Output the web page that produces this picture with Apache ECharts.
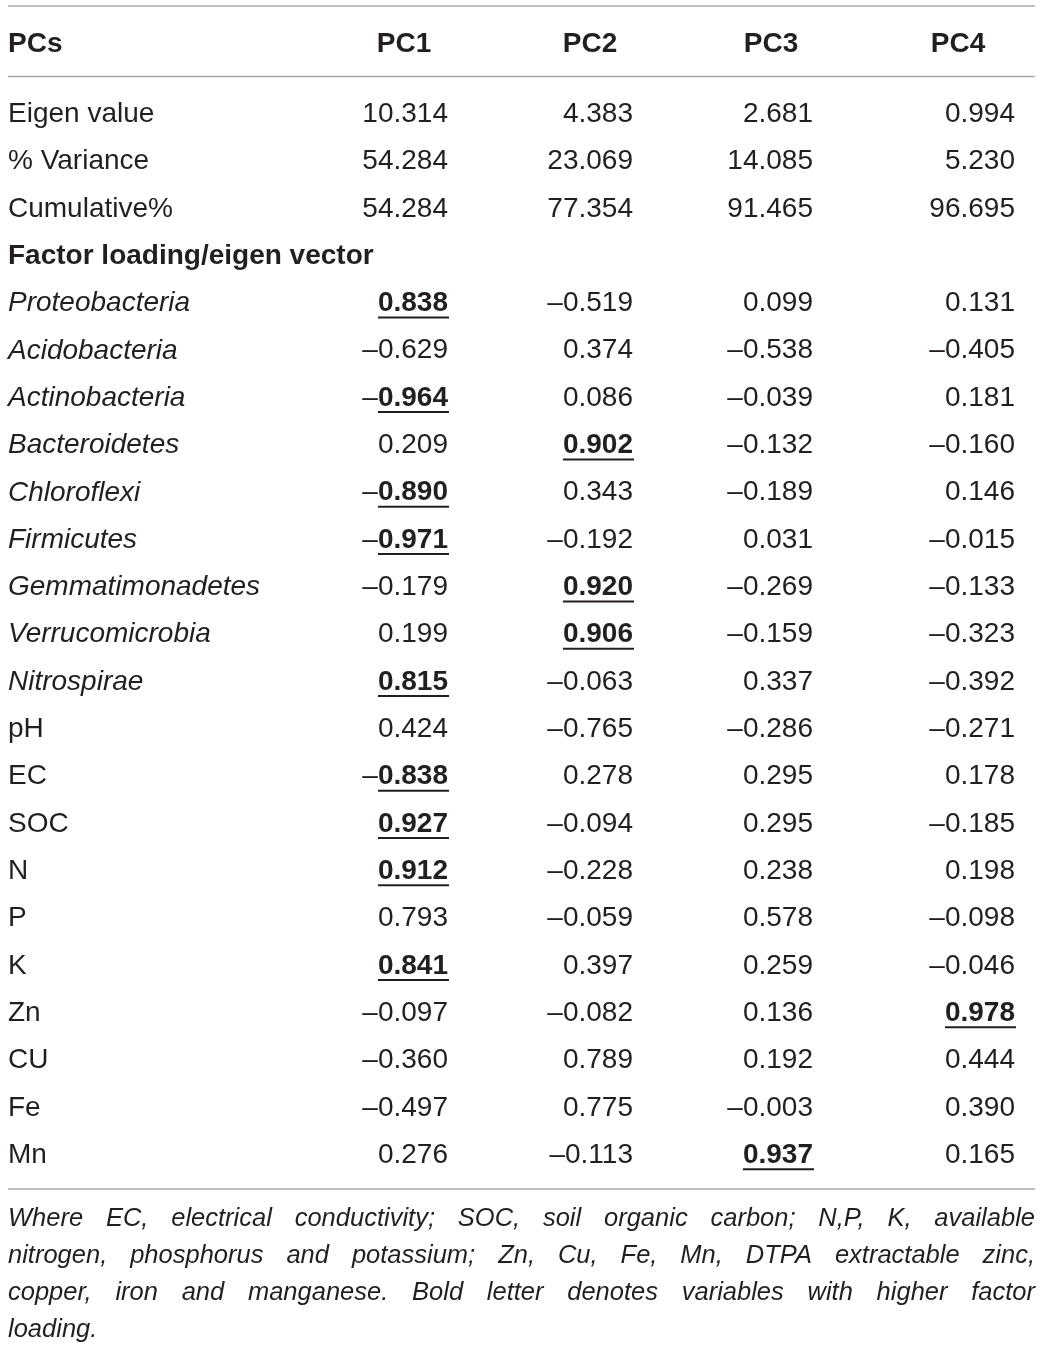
<!DOCTYPE html>
<html>
<head>
<meta charset="utf-8">
<script src="https://cdn.jsdelivr.net/npm/echarts@6/dist/echarts.min.js"></script>
<style>
html,body{margin:0;padding:0;background:#fff;}
#c{width:1043px;height:1350px;}
</style>
</head>
<body>
<div id="c"></div>
<script>
// ---------- DATA ----------
const headerLabel = 'PCs';
const columns = ['PC1', 'PC2', 'PC3', 'PC4'];
const rowLabels = ['Eigen value', '% Variance', 'Cumulative%', 'Factor loading/eigen vector',
  'Proteobacteria', 'Acidobacteria', 'Actinobacteria', 'Bacteroidetes', 'Chloroflexi', 'Firmicutes',
  'Gemmatimonadetes', 'Verrucomicrobia', 'Nitrospirae',
  'pH', 'EC', 'SOC', 'N', 'P', 'K', 'Zn', 'CU', 'Fe', 'Mn'];
const italicRows = ['Proteobacteria', 'Acidobacteria', 'Actinobacteria', 'Bacteroidetes', 'Chloroflexi',
  'Firmicutes', 'Gemmatimonadetes', 'Verrucomicrobia', 'Nitrospirae'];
const sectionRows = ['Factor loading/eigen vector'];
const pc1 = [10.314, 54.284, 54.284, null, 0.838, -0.629, -0.964, 0.209, -0.890, -0.971, -0.179, 0.199, 0.815, 0.424, -0.838, 0.927, 0.912, 0.793, 0.841, -0.097, -0.360, -0.497, 0.276];
const pc2 = [4.383, 23.069, 77.354, null, -0.519, 0.374, 0.086, 0.902, 0.343, -0.192, 0.920, 0.906, -0.063, -0.765, 0.278, -0.094, -0.228, -0.059, 0.397, -0.082, 0.789, 0.775, -0.113];
const pc3 = [2.681, 14.085, 91.465, null, 0.099, -0.538, -0.039, -0.132, -0.189, 0.031, -0.269, -0.159, 0.337, -0.286, 0.295, 0.295, 0.238, 0.578, 0.259, 0.136, 0.192, -0.003, 0.937];
const pc4 = [0.994, 5.230, 96.695, null, 0.131, -0.405, 0.181, -0.160, 0.146, -0.015, -0.133, -0.323, -0.392, -0.271, 0.178, -0.185, 0.198, -0.098, -0.046, 0.978, 0.444, 0.390, 0.165];
const highlighted = [
  ['PC1', 'Proteobacteria'], ['PC1', 'Actinobacteria'], ['PC1', 'Chloroflexi'], ['PC1', 'Firmicutes'],
  ['PC1', 'Nitrospirae'], ['PC1', 'EC'], ['PC1', 'SOC'], ['PC1', 'N'], ['PC1', 'K'],
  ['PC2', 'Bacteroidetes'], ['PC2', 'Gemmatimonadetes'], ['PC2', 'Verrucomicrobia'],
  ['PC3', 'Mn'], ['PC4', 'Zn']
];
const footnoteLines = [
  'Where EC, electrical conductivity; SOC, soil organic carbon; N,P, K, available',
  'nitrogen, phosphorus and potassium; Zn, Cu, Fe, Mn, DTPA extractable zinc,',
  'copper, iron and manganese. Bold letter denotes variables with higher factor',
  'loading.'
];

// ---------- LAYOUT / STYLE ----------
const FONT = '"Liberation Sans", Arial, Helvetica, sans-serif';
const INK = '#231f20';
const RULE = '#a8a8a8';
const SIZE = 28;
const COL_RIGHT = [448, 633, 813, 1015];     // right edge of each numeric column
const HEAD_CENTER = [404, 590, 771, 958];    // centre of each column heading
const LEFT = 8, RIGHT = 1035;

const seriesCols = [pc1, pc2, pc3, pc4];
const ctx = document.createElement('canvas').getContext('2d');
function tw(font, s) { ctx.font = font; return ctx.measureText(s).width; }
const fNorm = SIZE + 'px ' + FONT;
const fBold = 'bold ' + SIZE + 'px ' + FONT;

function fmtAbs(v) { return Math.abs(v).toFixed(3); }

const cells = [];
seriesCols.forEach((arr, ci) => {
  arr.forEach((v, ri) => {
    if (v === null || v === undefined) return;
    const hi = highlighted.some(h => h[0] === columns[ci] && h[1] === rowLabels[ri]);
    cells.push({ ci, ri, v, hi });
  });
});

const chart = echarts.init(document.getElementById('c'), null, { renderer: 'canvas' });

function labelFormatter(val) {
  if (italicRows.indexOf(val) >= 0) return '{i|' + val + '}';
  if (sectionRows.indexOf(val) >= 0) return '{b|' + val + '}';
  return '{n|' + val + '}';
}
const rich = {
  n: { fontFamily: FONT, fontSize: SIZE, color: INK },
  i: { fontFamily: FONT, fontSize: SIZE, color: INK, fontStyle: 'italic' },
  b: { fontFamily: FONT, fontSize: SIZE, color: INK, fontWeight: 'bold' }
};

// footnote, justified word by word
const footGraphics = [];
let fSize = 25.5;
const footFont = s => 'italic ' + s + 'px ' + FONT;
const target = RIGHT - LEFT;
for (let k = 0; k < 20; k++) {
  let ok = true;
  footnoteLines.slice(0, 3).forEach(line => {
    const words = line.split(' ');
    const sum = words.reduce((a, w) => a + tw(footFont(fSize), w), 0);
    if ((target - sum) / (words.length - 1) < fSize * 0.18) ok = false;
  });
  if (ok) break;
  fSize -= 0.5;
}
const FOOT_Y = [1219, 1256, 1293, 1330];
footnoteLines.forEach((line, li) => {
  const words = line.split(' ');
  const widths = words.map(w => tw(footFont(fSize), w));
  const sum = widths.reduce((a, b) => a + b, 0);
  const justify = li < footnoteLines.length - 1;
  const gap = justify ? (target - sum) / (words.length - 1) : tw(footFont(fSize), ' ');
  let x = LEFT;
  words.forEach((w, wi) => {
    footGraphics.push({
      type: 'text', x: x, y: FOOT_Y[li],
      style: { text: w, font: footFont(fSize), fill: INK, align: 'left', verticalAlign: 'middle' }
    });
    x += widths[wi] + gap;
  });
});

const rules = [6, 76.5, 1189].map(y => ({
  type: 'line', shape: { x1: LEFT, y1: y, x2: RIGHT, y2: y },
  style: { stroke: RULE, lineWidth: 1.6 }
}));

const option = {
  animation: false,
  backgroundColor: '#ffffff',
  grid: [
    { left: 0, right: 0, top: 90.5, bottom: 171.1 },
    { left: 0, right: 0, top: 8, height: 72 }
  ],
  xAxis: [
    { type: 'value', gridIndex: 0, min: 0, max: 1043, show: false },
    { type: 'value', gridIndex: 1, min: 0, max: 1043, show: false }
  ],
  yAxis: [
    {
      type: 'category', gridIndex: 0, data: rowLabels, inverse: true,
      axisLine: { show: false }, axisTick: { show: false }, splitLine: { show: false },
      axisLabel: { inside: true, margin: LEFT, align: 'left', interval: 0,
        fontFamily: FONT, fontSize: SIZE, color: INK, formatter: labelFormatter, rich: rich }
    },
    {
      type: 'category', gridIndex: 1, data: [headerLabel],
      axisLine: { show: false }, axisTick: { show: false }, splitLine: { show: false },
      axisLabel: { inside: true, margin: LEFT, align: 'left', fontFamily: FONT, fontSize: SIZE,
        fontWeight: 'bold', color: INK }
    }
  ],
  series: [
    {
      type: 'custom', xAxisIndex: 0, yAxisIndex: 0,
      data: cells.map(c => [COL_RIGHT[c.ci], c.ri]),
      encode: { x: 0, y: 1 },
      renderItem: function (params, api) {
        const c = cells[params.dataIndex];
        const p = api.coord([api.value(0), api.value(1)]);
        const x = p[0], y = p[1];
        const children = [];
        if (!c.hi) {
          children.push({ type: 'text', style: { x: x, y: y, text: (c.v < 0 ? '\u2013' : '') + fmtAbs(c.v),
            font: fNorm, fill: INK, align: 'right', verticalAlign: 'middle' } });
        } else {
          const body = fmtAbs(c.v);
          const bw = tw(fBold, body);
          children.push({ type: 'text', style: { x: x, y: y, text: body, font: fBold, fill: INK,
            align: 'right', verticalAlign: 'middle' } });
          if (c.v < 0) {
            children.push({ type: 'text', style: { x: x - bw, y: y, text: '\u2013', font: fNorm, fill: INK,
              align: 'right', verticalAlign: 'middle' } });
          }
          children.push({ type: 'line', shape: { x1: x - bw, y1: y + 14, x2: x + 1, y2: y + 14 },
            style: { stroke: INK, lineWidth: 2 } });
        }
        return { type: 'group', children: children };
      }
    },
    {
      type: 'custom', xAxisIndex: 1, yAxisIndex: 1,
      data: columns.map((c, i) => [HEAD_CENTER[i], 0]),
      encode: { x: 0, y: 1 },
      renderItem: function (params, api) {
        const p = api.coord([api.value(0), api.value(1)]);
        return { type: 'text', style: { x: p[0], y: p[1], text: columns[params.dataIndex],
          font: fBold, fill: INK, align: 'center', verticalAlign: 'middle' } };
      }
    }
  ],
  graphic: rules.concat(footGraphics)
};
chart.setOption(option);
</script>
</body>
</html>
